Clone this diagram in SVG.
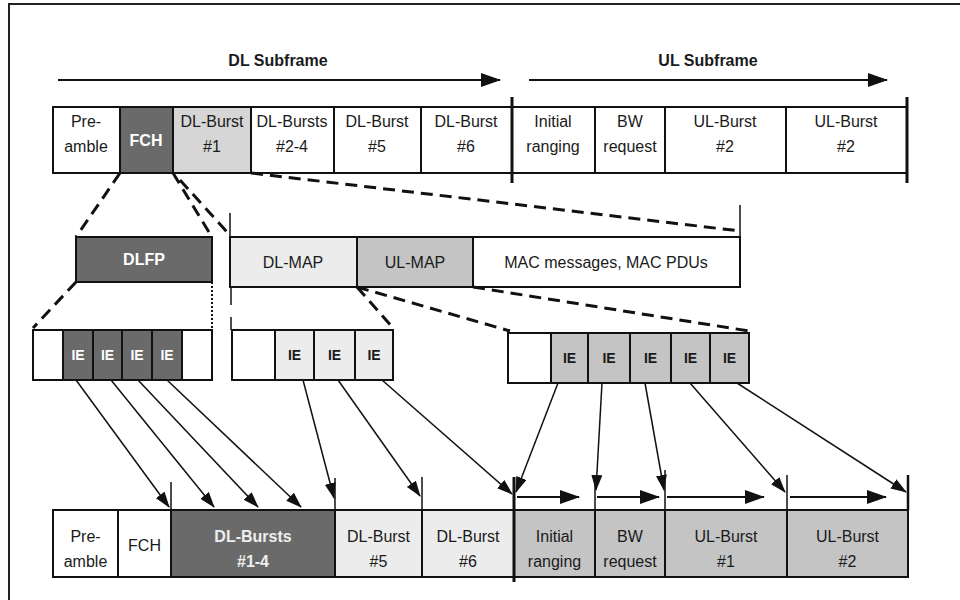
<svg xmlns="http://www.w3.org/2000/svg" width="960" height="600" viewBox="0 0 960 600">
<defs>
<marker id="ah" markerUnits="userSpaceOnUse" markerWidth="16" markerHeight="11" refX="15" refY="5.5" orient="auto"><path d="M0,0 L16,5.5 L0,11 Z" fill="#111"/></marker>
<marker id="ahb" markerUnits="userSpaceOnUse" markerWidth="20" markerHeight="14" refX="19" refY="7" orient="auto"><path d="M0,0 L20,7 L0,14 Z" fill="#111"/></marker>
<style>
.cell{stroke:#111;stroke-width:2}
.w{fill:#fff}.dk{fill:#6a6a6a}.lt{fill:#ececec}.md{fill:#c4c4c4}.l1{fill:#d6d6d6}
text{font-family:"Liberation Sans",Arial,sans-serif;font-size:16px;fill:#1a1a1a;text-anchor:middle}
.b{font-weight:bold}.wt{fill:#fff}
.ie{font-size:14px;font-weight:bold}
.dash{stroke:#111;stroke-width:3;stroke-dasharray:12,7;fill:none}
.ln{stroke:#111;stroke-width:1.5;fill:none}
.arr{stroke:#111;stroke-width:1.5;fill:none;marker-end:url(#ah)}
.arrb{stroke:#111;stroke-width:2;fill:none;marker-end:url(#ahb)}
.thick{stroke:#111;stroke-width:3}
</style>
</defs>
<rect width="960" height="600" fill="#fff"/>
<path d="M9,600 V4 H960" stroke="#222" stroke-width="2" fill="none"/>

<g id="subframe-labels">
<text class="b" x="278" y="66" font-size="15">DL Subframe</text>
<text class="b" x="708" y="66" font-size="15">UL Subframe</text>
</g>

<g id="top-frame">
<rect class="cell w" x="53" y="107" width="67" height="66"/>
<text x="86" y="127">Pre-</text><text x="86" y="152">amble</text>
<rect class="cell dk" x="120" y="107" width="53" height="66"/>
<text class="b wt" x="146" y="146">FCH</text>
<rect class="cell l1" x="173" y="107" width="78" height="66"/>
<text x="212" y="127">DL-Burst</text><text x="212" y="152">#1</text>
<rect class="cell w" x="251" y="107" width="83" height="66"/>
<text x="292" y="127">DL-Bursts</text><text x="292" y="152">#2-4</text>
<rect class="cell w" x="334" y="107" width="87" height="66"/>
<text x="377" y="127">DL-Burst</text><text x="377" y="152">#5</text>
<rect class="cell w" x="421" y="107" width="91" height="66"/>
<text x="466" y="127">DL-Burst</text><text x="466" y="152">#6</text>
<rect class="cell w" x="512" y="107" width="83" height="66"/>
<text x="553" y="127">Initial</text><text x="553" y="152">ranging</text>
<rect class="cell w" x="595" y="107" width="70" height="66"/>
<text x="630" y="127">BW</text><text x="630" y="152">request</text>
<rect class="cell w" x="665" y="107" width="121" height="66"/>
<text x="725" y="127">UL-Burst</text><text x="725" y="152">#2</text>
<rect class="cell w" x="786" y="107" width="121" height="66"/>
<text x="846" y="127">UL-Burst</text><text x="846" y="152">#2</text>
<line class="thick" x1="512" y1="97" x2="512" y2="183"/>
<line class="thick" x1="907" y1="97" x2="907" y2="183"/>
</g>

<g id="dlfp">
<rect class="cell dk" x="76" y="237" width="136" height="45"/>
<text class="b wt" x="144" y="265" font-size="14">DLFP</text>
</g>

<g id="map-block">
<rect class="cell lt" x="230" y="237" width="127" height="50"/>
<text x="293" y="268">DL-MAP</text>
<rect class="cell md" x="357" y="237" width="116" height="50"/>
<text x="415" y="268">UL-MAP</text>
<rect class="cell w" x="473" y="237" width="267" height="50"/>
<text x="606" y="268" font-size="15">MAC messages, MAC PDUs</text>
</g>

<g id="ie-dlfp">
<rect class="cell w" x="33" y="330" width="30" height="50"/>
<rect class="cell dk" x="63" y="330" width="30" height="50"/>
<rect class="cell dk" x="93" y="330" width="29" height="50"/>
<rect class="cell dk" x="122" y="330" width="30" height="50"/>
<rect class="cell dk" x="152" y="330" width="30" height="50"/>
<rect class="cell w" x="182" y="330" width="30" height="50"/>
<text class="ie wt" x="78" y="360">IE</text><text class="ie wt" x="107.5" y="360">IE</text>
<text class="ie wt" x="137" y="360">IE</text><text class="ie wt" x="167" y="360">IE</text>
</g>

<g id="ie-dlmap">
<rect class="cell w" x="232" y="330" width="43" height="50"/>
<rect class="cell lt" x="275" y="330" width="39" height="50"/>
<rect class="cell lt" x="314" y="330" width="41" height="50"/>
<rect class="cell lt" x="355" y="330" width="38" height="50"/>
<text class="ie" x="294.5" y="360">IE</text><text class="ie" x="334.5" y="360">IE</text><text class="ie" x="374" y="360">IE</text>
</g>

<g id="ie-ulmap">
<rect class="cell w" x="508" y="333" width="43" height="50"/>
<rect class="cell md" x="551" y="333" width="37" height="50"/>
<rect class="cell md" x="588" y="333" width="42" height="50"/>
<rect class="cell md" x="630" y="333" width="41" height="50"/>
<rect class="cell md" x="671" y="333" width="39" height="50"/>
<rect class="cell md" x="710" y="333" width="39" height="50"/>
<text class="ie" x="569.5" y="363">IE</text><text class="ie" x="609" y="363">IE</text><text class="ie" x="650.5" y="363">IE</text>
<text class="ie" x="690.5" y="363">IE</text><text class="ie" x="729.5" y="363">IE</text>
</g>

<g id="bottom-frame">
<rect class="cell w" x="53" y="510" width="65" height="67"/>
<text x="85.5" y="542">Pre-</text><text x="85.5" y="567">amble</text>
<rect class="cell w" x="118" y="510" width="53" height="67"/>
<text x="144.5" y="551">FCH</text>
<rect class="cell dk" x="171" y="510" width="164" height="67"/>
<text class="b" x="253" y="542" style="fill:#eee">DL-Bursts</text><text class="b" x="253" y="567" style="fill:#eee">#1-4</text>
<rect class="cell lt" x="335" y="510" width="87" height="67"/>
<text x="378.5" y="542">DL-Burst</text><text x="378.5" y="567">#5</text>
<rect class="cell lt" x="422" y="510" width="92" height="67"/>
<text x="468" y="542">DL-Burst</text><text x="468" y="567">#6</text>
<rect class="cell md" x="514" y="510" width="81" height="67"/>
<text x="554.5" y="542">Initial</text><text x="554.5" y="567">ranging</text>
<rect class="cell md" x="595" y="510" width="70" height="67"/>
<text x="630" y="542">BW</text><text x="630" y="567">request</text>
<rect class="cell md" x="665" y="510" width="122" height="67"/>
<text x="726" y="542">UL-Burst</text><text x="726" y="567">#1</text>
<rect class="cell md" x="787" y="510" width="121" height="67"/>
<text x="847.5" y="542">UL-Burst</text><text x="847.5" y="567">#2</text>
<line class="thick" x1="514" y1="477" x2="514" y2="582"/>
</g>

<g id="connectors">
<line class="dash" x1="120" y1="173" x2="76" y2="237"/>
<line class="dash" x1="173" y1="173" x2="212" y2="237"/>
<line class="dash" x1="180" y1="180" x2="228" y2="233"/>
<line class="dash" x1="251" y1="173" x2="740" y2="231"/>
<line class="dash" x1="76" y1="282" x2="33" y2="328"/>
<line x1="212" y1="282" x2="212" y2="330" stroke="#111" stroke-width="2" stroke-dasharray="2,2"/>
<line class="dash" x1="357" y1="287" x2="393" y2="328"/>
<line class="dash" x1="357" y1="287" x2="510" y2="331"/>
<line class="dash" x1="473" y1="287" x2="749" y2="331"/>
<line class="ln" x1="230" y1="213" x2="230" y2="237"/>
<line class="ln" x1="740" y1="205" x2="740" y2="237"/>
<line class="ln" x1="231" y1="287" x2="231" y2="305" stroke-width="2"/>
<line class="ln" x1="231" y1="317" x2="231" y2="330" stroke-width="2"/>
<line class="ln" x1="171" y1="482" x2="171" y2="510"/>
<line class="ln" x1="335" y1="478" x2="335" y2="510"/>
<line class="ln" x1="422" y1="477" x2="422" y2="510"/>
<line class="ln" x1="595" y1="475" x2="595" y2="510"/>
<line class="ln" x1="665" y1="470" x2="665" y2="510"/>
<line class="ln" x1="787" y1="475" x2="787" y2="510"/>
<line x1="908" y1="475" x2="908" y2="510" stroke="#111" stroke-width="2.5"/>
<line class="arrb" x1="517" y1="497" x2="579" y2="497"/>
<line class="arrb" x1="597" y1="497" x2="659" y2="497"/>
<line class="arrb" x1="667" y1="497" x2="764" y2="497"/>
<line class="arrb" x1="790" y1="497" x2="886" y2="497"/>
<line class="arr" x1="76" y1="380" x2="169" y2="507"/>
<line class="arr" x1="111" y1="380" x2="214" y2="507"/>
<line class="arr" x1="138" y1="380" x2="258" y2="507"/>
<line class="arr" x1="167" y1="380" x2="301" y2="507"/>
<line class="arr" x1="303" y1="380" x2="334" y2="498"/>
<line class="arr" x1="338" y1="380" x2="420" y2="496"/>
<line class="arr" x1="382" y1="380" x2="512" y2="494"/>
<line class="arr" x1="558" y1="383" x2="516" y2="492"/>
<line class="arr" x1="602" y1="383" x2="596" y2="490"/>
<line class="arr" x1="645" y1="383" x2="664" y2="490"/>
<line class="arr" x1="690" y1="383" x2="785" y2="492"/>
<line class="arr" x1="737" y1="383" x2="906" y2="492"/>
<line class="arrb" x1="58" y1="80" x2="500" y2="80"/>
<line class="arrb" x1="529" y1="80" x2="887" y2="80"/>
</g>
</svg>
